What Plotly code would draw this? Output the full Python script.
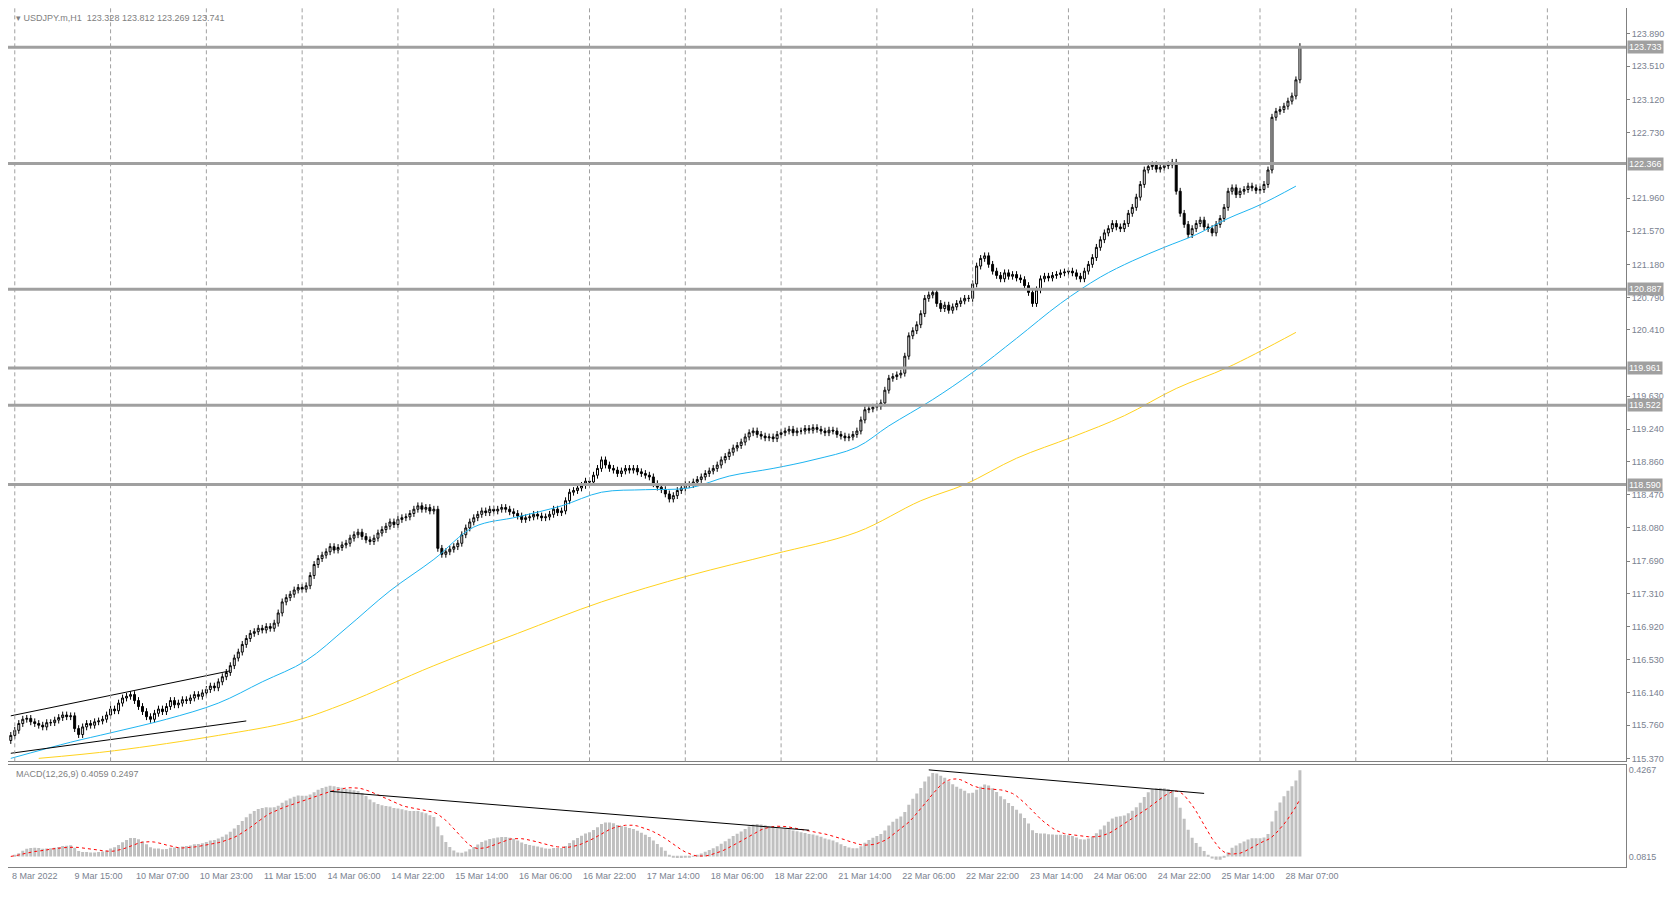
import numpy as np
import plotly.graph_objects as go

closes = [
115.64,115.70,115.78,115.83,115.84,115.80,115.78,115.76,115.74,115.79,115.79,115.82,
115.85,115.88,115.86,115.87,115.72,115.65,115.74,115.78,115.76,115.80,115.81,115.83,
115.88,115.95,115.93,116.02,116.08,116.10,116.12,116.05,115.98,115.92,115.86,115.83,
115.90,115.95,115.92,115.98,116.05,116.00,116.02,116.06,116.05,116.08,116.12,116.10,
116.14,116.18,116.22,116.20,116.27,116.33,116.38,116.46,116.55,116.62,116.71,116.78,
116.84,116.86,116.90,116.88,116.92,116.90,116.96,117.08,117.21,117.26,117.30,117.35,
117.38,117.36,117.40,117.52,117.65,117.72,117.76,117.80,117.86,117.82,117.85,117.88,
117.90,117.96,118.00,118.03,117.98,117.94,117.92,117.96,118.02,118.06,118.10,118.15,
118.12,118.18,118.20,118.21,118.25,118.30,118.34,118.30,118.32,118.28,118.30,117.84,
117.77,117.80,117.83,117.86,117.90,118.00,118.08,118.15,118.20,118.24,118.28,118.26,
118.30,118.28,118.30,118.32,118.30,118.27,118.25,118.22,118.18,118.20,118.21,118.24,
118.22,118.20,118.21,118.24,118.30,118.26,118.28,118.40,118.50,118.52,118.55,118.58,
118.63,118.62,118.70,118.78,118.88,118.82,118.78,118.76,118.72,118.75,118.78,118.76,
118.78,118.74,118.72,118.70,118.68,118.60,118.56,118.53,118.48,118.42,118.46,118.52,
118.55,118.59,118.59,118.62,118.65,118.68,118.72,118.75,118.78,118.82,118.88,118.92,
118.97,119.02,119.05,119.09,119.15,119.20,119.22,119.18,119.16,119.14,119.15,119.13,
119.18,119.20,119.22,119.24,119.20,119.22,119.22,119.25,119.23,119.26,119.24,119.22,
119.20,119.23,119.22,119.18,119.16,119.14,119.15,119.18,119.22,119.35,119.47,119.48,
119.50,119.51,119.55,119.70,119.84,119.86,119.88,119.90,120.10,120.34,120.40,120.47,
120.60,120.78,120.82,120.85,120.72,120.66,120.70,120.64,120.68,120.72,120.75,120.78,
120.78,120.95,121.16,121.25,121.28,121.18,121.10,121.05,121.01,121.08,121.04,121.06,
121.02,121.00,120.93,120.85,120.72,120.88,121.01,121.04,121.02,121.05,121.06,121.08,
121.09,121.10,121.08,121.04,121.01,121.10,121.18,121.26,121.38,121.47,121.55,121.60,
121.66,121.62,121.60,121.66,121.78,121.85,121.97,122.12,122.29,122.33,122.35,122.30,
122.32,122.34,122.35,122.38,122.04,121.78,121.65,121.53,121.60,121.66,121.70,121.62,
121.60,121.55,121.65,121.72,121.85,122.04,122.08,122.00,122.04,122.06,122.10,122.08,
122.05,122.06,122.12,122.29,122.91,122.98,123.00,123.04,123.10,123.16,123.35,123.741]
first_open = 115.58
wick = 0.04

ma_fast_i = [0,15,25,39,52,63,74,84,95,106,116,127,138,148,159,170,180,191,201,212,220,231,241,252,263,273,281,289,297,305,313,322]
ma_fast_v = [115.37,115.56,115.67,115.83,116.02,116.27,116.52,116.90,117.34,117.71,118.09,118.21,118.34,118.50,118.53,118.55,118.69,118.78,118.88,119.03,119.28,119.59,119.91,120.31,120.72,121.03,121.22,121.38,121.53,121.72,121.88,122.10]
ma_slow_i = [7,26,52,71,84,106,127,148,170,191,212,228,239,252,266,279,292,305,322]
ma_slow_v = [115.37,115.46,115.64,115.81,116.02,116.46,116.84,117.21,117.52,117.77,118.03,118.40,118.59,118.90,119.15,119.40,119.72,119.97,120.38]

levels = [123.733, 122.366, 120.887, 119.961, 119.522, 118.590]
price_ticks = [115.370,115.760,116.140,116.530,116.920,117.310,117.690,118.080,118.470,118.860,119.240,119.630,120.410,120.790,121.180,121.570,121.960,122.730,123.120,123.510,123.890]
time_labels = ["8 Mar 2022","9 Mar 15:00","10 Mar 07:00","10 Mar 23:00","11 Mar 15:00","14 Mar 06:00","14 Mar 22:00","15 Mar 14:00","16 Mar 06:00","16 Mar 22:00","17 Mar 14:00","18 Mar 06:00","18 Mar 22:00","21 Mar 14:00","22 Mar 06:00","22 Mar 22:00","23 Mar 14:00","24 Mar 06:00","24 Mar 22:00","25 Mar 14:00","28 Mar 07:00"]
channel_upper = [(0,115.87),(55,116.40)]
channel_lower = [(0,115.43),(59,115.81)]

n = len(closes)
idx = np.arange(n)
c = np.array(closes)
o = np.concatenate([[first_open], c[:-1]])
h = np.maximum(o, c) + wick
l = np.minimum(o, c) - wick

def ema(x, p):
    a = 2/(p+1); out = np.empty_like(x); out[0] = x[0]
    for k in range(1, len(x)):
        out[k] = a*x[k] + (1-a)*out[k-1]
    return out
macd = ema(c, 12) - ema(c, 26)
sig = np.array([macd[max(0,k-8):k+1].mean() for k in range(n)])

FONT = "Liberation Sans"
TICKC = "#7a8290"
fig = go.Figure()
fig.add_trace(go.Candlestick(x=idx, open=o, high=h, low=l, close=c,
    increasing=dict(line=dict(color="black", width=1), fillcolor="white"),
    decreasing=dict(line=dict(color="black", width=1), fillcolor="black"),
    whiskerwidth=0, showlegend=False, xaxis="x", yaxis="y"))
fig.add_trace(go.Scatter(x=ma_fast_i, y=ma_fast_v, mode="lines", line=dict(color="#1EB4F0", width=1, shape="spline"), showlegend=False))
fig.add_trace(go.Scatter(x=ma_slow_i, y=ma_slow_v, mode="lines", line=dict(color="#FFD21E", width=1, shape="spline"), showlegend=False))
for seg in (channel_upper, channel_lower):
    fig.add_trace(go.Scatter(x=[p[0] for p in seg], y=[p[1] for p in seg], mode="lines", line=dict(color="black", width=1), showlegend=False))
fig.add_trace(go.Bar(x=idx, y=macd, marker=dict(color="#C0C0C0", line=dict(width=0)), width=0.75, showlegend=False, xaxis="x2", yaxis="y2"))
fig.add_trace(go.Scatter(x=idx, y=sig, mode="lines", line=dict(color="red", width=1, dash="dot"), showlegend=False, xaxis="x2", yaxis="y2"))

mtop = float(macd.max()); mbot = float(min(macd.min(), 0))
span = mtop - mbot
y2r = [mbot - span*0.08, mtop + span*0.06]
fig.add_shape(type="line", x0=80, x1=200, y0=0.74, y1=0.36, xref="x2", yref="y2 domain", line=dict(color="black", width=1))
fig.add_shape(type="line", x0=230, x1=299, y0=0.95, y1=0.72, xref="x2", yref="y2 domain", line=dict(color="black", width=1))

for lv in levels:
    fig.add_shape(type="line", x0=0, x1=1, xref="paper", y0=lv, y1=lv, yref="y", line=dict(color="#A0A0A0", width=3))
    fig.add_annotation(x=1, xref="paper", y=lv, yref="y", text=f"{lv:.3f}", showarrow=False, xanchor="left", xshift=1,
        font=dict(size=9, color="white", family=FONT), bgcolor="#A0A0A0", borderpad=1)

for k in range(1, 405, 24):
    fig.add_vline(x=k, line=dict(color="#A0A0A0", width=1, dash="4px,3px"))

xr = [-0.7, 404.7]
fig.update_layout(
    width=1665, height=897, margin=dict(l=0, r=47, t=0, b=38),
    paper_bgcolor="white", plot_bgcolor="white",
    font=dict(family=FONT, size=9, color=TICKC),
    xaxis=dict(domain=[0,1], range=xr, anchor="y", showticklabels=False, showgrid=False, zeroline=False,
               rangeslider=dict(visible=False), showline=True, linecolor="#808080", mirror=True),
    yaxis=dict(domain=[0.123,1], range=[115.335,124.195], side="right", tickvals=price_ticks,
               ticktext=[f"{v:.3f}" for v in price_ticks], ticks="outside", ticklen=3, tickcolor="#808080",
               showgrid=False, zeroline=False, showline=True, linecolor="#808080", mirror=True, tickfont=dict(size=9)),
    xaxis2=dict(domain=[0,1], range=xr, anchor="y2", tickvals=[16*k+6 for k in range(len(time_labels))], ticktext=time_labels,
                ticks="", showgrid=False, zeroline=False, showline=True, linecolor="#808080", mirror=True,
                tickfont=dict(size=9)),
    yaxis2=dict(domain=[0,0.119], range=y2r, side="right", tickvals=[mtop, 0], ticktext=["0.4267","0.0815"],
                showgrid=False, zeroline=False, showline=True, linecolor="#808080", mirror=True, tickfont=dict(size=9)),
    bargap=0.2,
)
fig.add_annotation(x=0.004, y=0.997, xref="paper", yref="paper", xanchor="left", yanchor="top", showarrow=False,
    text="▾ USDJPY.m,H1  123.328 123.812 123.269 123.741", font=dict(size=9, color="#808080"))
fig.add_annotation(x=0.004, y=0.116, xref="paper", yref="paper", xanchor="left", yanchor="top", showarrow=False,
    text="MACD(12,26,9) 0.4059 0.2497", font=dict(size=9, color="#808080"))
fig.write_html("out.html")
